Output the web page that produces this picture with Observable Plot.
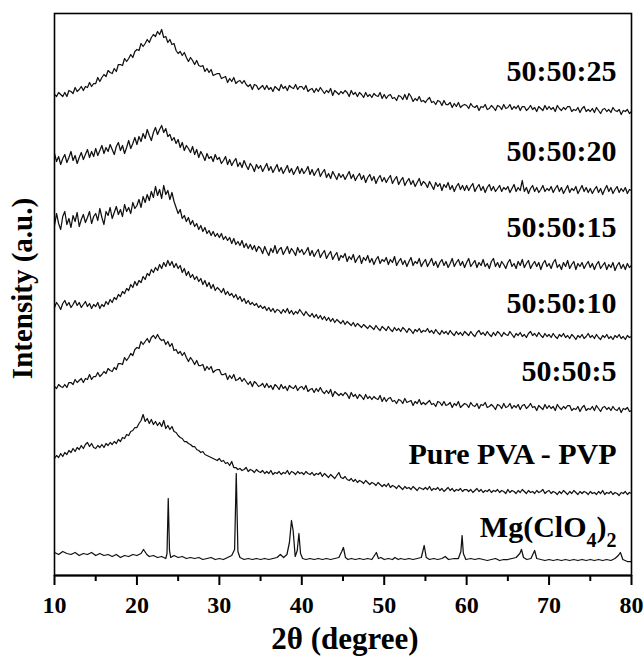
<!DOCTYPE html>
<html><head><meta charset="utf-8">
<script src="https://cdn.jsdelivr.net/npm/d3@7"></script>
<script src="https://cdn.jsdelivr.net/npm/@observablehq/plot@0.6"></script>
<style>
body{margin:0;background:#fff}
svg text{font-family:"Liberation Serif","Times New Roman","DejaVu Serif",serif !important;font-weight:bold}
</style>
</head><body><div id="chart"></div>
<script>
// ---- data ----
const seriesNames = ["50:50:25", "50:50:20", "50:50:15", "50:50:10", "50:50:5", "Pure PVA - PVP", "Mg(ClO4)2"];
const majorTicks = [10, 20, 30, 40, 50, 60, 70, 80];
const minorTicks = [15, 25, 35, 45, 55, 65, 75];
const xTitle = "2θ (degree)";
const yTitle = "Intensity (a.u.)";

// sampling grid of the six polymer patterns (every 0.25°)
const angles = d3.range(10, 80.001, 0.25);

const i25 = [
  481, 479, 483, 481, 479, 483, 479, 485, 484, 482, 488, 484, 486, 489, 485, 489, 488, 493, 489, 492,
  492, 498, 494, 498, 501, 499, 505, 503, 502, 507, 504, 511, 511, 510, 517, 514, 517, 521, 518, 524,
  526, 525, 532, 529, 532, 536, 533, 538, 541, 539, 544, 541, 546, 538, 539, 533, 536, 531, 532, 525,
  522, 524, 520, 523, 518, 514, 518, 515, 511, 515, 510, 509, 510, 504, 507, 503, 506, 500, 501, 502,
  502, 497, 498, 499, 493, 497, 494, 498, 492, 494, 495, 492, 495, 491, 489, 491, 486, 491, 490, 486,
  488, 490, 486, 490, 486, 488, 484, 489, 487, 485, 491, 487, 489, 485, 490, 488, 487, 491, 486, 489,
  489, 486, 490, 484, 486, 487, 483, 487, 484, 488, 485, 482, 485, 483, 487, 480, 485, 483, 481, 484,
  482, 485, 483, 479, 485, 481, 483, 479, 483, 481, 478, 483, 479, 481, 478, 482, 480, 479, 483, 477,
  481, 477, 480, 481, 477, 478, 475, 480, 479, 476, 481, 476, 482, 479, 474, 477, 475, 479, 474, 475,
  473, 476, 478, 473, 474, 471, 475, 474, 470, 475, 471, 471, 473, 468, 472, 469, 473, 468, 470, 471,
  470, 467, 472, 469, 468, 470, 465, 469, 468, 471, 466, 467, 470, 468, 465, 470, 469, 466, 471, 467,
  468, 471, 466, 469, 467, 470, 465, 469, 469, 465, 467, 470, 466, 468, 464, 469, 467, 465, 470, 466,
  469, 466, 468, 464, 470, 467, 465, 468, 466, 469, 469, 464, 466, 465, 468, 463, 467, 469, 464, 466,
  464, 467, 463, 468, 465, 462, 466, 467, 464, 466, 463, 468, 465, 464, 466, 461, 465, 464, 466, 462,
  464];
const i20 = [
  422, 414, 419, 411, 417, 421, 413, 418, 424, 415, 420, 412, 418, 423, 416, 421, 426, 418, 424, 419,
  427, 420, 425, 430, 422, 428, 424, 431, 426, 421, 429, 433, 425, 430, 422, 428, 435, 427, 432, 438,
  431, 439, 434, 442, 437, 446, 440, 435, 443, 448, 441, 446, 450, 443, 447, 439, 441, 435, 438, 432,
  436, 428, 433, 425, 430, 427, 423, 429, 421, 426, 418, 424, 420, 415, 422, 417, 419, 414, 421, 416,
  418, 412, 415, 419, 411, 416, 410, 414, 417, 409, 413, 408, 415, 410, 406, 412, 409, 404, 411, 407,
  410, 404, 408, 412, 405, 409, 403, 407, 411, 404, 408, 402, 406, 410, 403, 407, 401, 405, 409, 402,
  407, 402, 405, 409, 401, 406, 400, 404, 407, 399, 403, 406, 398, 402, 397, 404, 400, 396, 402, 398,
  401, 396, 400, 404, 397, 401, 395, 399, 402, 396, 400, 393, 398, 401, 395, 399, 392, 397, 400, 394,
  398, 393, 397, 400, 392, 396, 399, 391, 395, 398, 390, 394, 397, 391, 395, 389, 393, 397, 390, 394,
  392, 388, 394, 390, 386, 393, 389, 392, 385, 391, 388, 393, 386, 390, 384, 389, 392, 386, 390, 385,
  390, 385, 389, 392, 384, 388, 391, 385, 389, 383, 388, 391, 385, 389, 384, 387, 390, 384, 388, 386,
  389, 383, 387, 391, 384, 388, 385, 395, 384, 388, 382, 387, 390, 384, 388, 383, 386, 390, 384, 387,
  385, 389, 383, 387, 390, 384, 388, 382, 386, 390, 383, 387, 385, 389, 382, 386, 390, 384, 388, 383,
  387, 382, 386, 389, 383, 387, 381, 386, 390, 384, 388, 382, 386, 389, 383, 387, 384, 388, 382, 386,
  385];
const i15 = [
  350, 362, 352, 346, 359, 364, 351, 357, 348, 360, 354, 363, 349, 356, 361, 353, 358, 364, 352, 359,
  362, 355, 367, 358, 351, 364, 360, 368, 357, 363, 369, 361, 366, 359, 371, 364, 368, 362, 373, 367,
  370, 376, 368, 379, 373, 381, 375, 384, 378, 389, 380, 386, 377, 390, 381, 385, 376, 383, 374, 368,
  362, 366, 357, 360, 354, 358, 351, 355, 349, 352, 346, 350, 344, 348, 342, 345, 340, 344, 339, 342,
  338, 342, 336, 339, 335, 338, 332, 337, 331, 334, 330, 335, 328, 332, 327, 331, 326, 330, 324, 329,
  327, 322, 329, 324, 320, 327, 323, 330, 322, 326, 328, 321, 325, 329, 322, 327, 324, 320, 328, 323,
  326, 321, 324, 328, 320, 325, 319, 323, 326, 318, 322, 325, 317, 321, 324, 316, 320, 323, 315, 320,
  318, 322, 314, 319, 316, 321, 313, 317, 320, 312, 318, 315, 320, 313, 317, 311, 316, 319, 312, 316,
  314, 318, 311, 316, 313, 319, 310, 314, 317, 311, 315, 309, 314, 318, 310, 314, 312, 317, 309, 313,
  316, 309, 313, 317, 310, 314, 308, 313, 316, 310, 314, 308, 312, 317, 309, 313, 316, 310, 314, 308,
  313, 317, 309, 312, 315, 308, 313, 310, 316, 309, 312, 307, 314, 317, 309, 313, 308, 314, 311, 307,
  313, 316, 309, 312, 307, 314, 310, 316, 308, 312, 315, 307, 311, 314, 309, 313, 306, 312, 315, 309,
  312, 307, 313, 316, 308, 311, 306, 313, 309, 315, 307, 311, 314, 306, 312, 309, 313, 307, 311, 314,
  308, 312, 306, 311, 314, 307, 310, 313, 306, 311, 308, 313, 305, 310, 313, 307, 311, 306, 312, 308,
  310];
const i10 = [
  268, 273, 270, 266, 272, 275, 270, 273, 268, 271, 275, 270, 273, 268, 271, 274, 269, 272, 267, 271,
  269, 273, 267, 271, 269, 274, 271, 276, 273, 278, 276, 281, 279, 284, 282, 287, 285, 291, 288, 294,
  290, 295, 293, 299, 296, 302, 300, 306, 303, 308, 305, 311, 307, 313, 309, 315, 310, 314, 308, 312,
  307, 310, 303, 307, 300, 304, 298, 301, 296, 299, 294, 297, 291, 295, 289, 293, 287, 291, 285, 288,
  286, 283, 287, 281, 284, 280, 282, 278, 281, 276, 279, 274, 277, 272, 275, 271, 273, 270, 272, 268,
  270, 267, 269, 265, 268, 264, 267, 263, 266, 265, 262, 266, 263, 267, 262, 265, 261, 264, 262, 266,
  263, 260, 264, 261, 259, 262, 258, 261, 257, 260, 256, 259, 255, 258, 254, 257, 253, 256, 254, 252,
  255, 251, 254, 252, 250, 253, 249, 252, 250, 248, 251, 249, 247, 250, 248, 246, 250, 247, 245, 249,
  247, 245, 249, 246, 244, 248, 245, 247, 244, 248, 246, 243, 247, 245, 242, 246, 244, 247, 243, 245,
  244, 247, 243, 245, 242, 246, 243, 241, 245, 242, 244, 241, 245, 242, 240, 244, 241, 243, 240, 244,
  242, 240, 244, 241, 239, 243, 245, 241, 243, 240, 244, 241, 239, 243, 240, 244, 242, 239, 243, 241,
  240, 244, 241, 238, 242, 240, 243, 239, 241, 238, 242, 244, 240, 242, 239, 243, 240, 238, 242, 239,
  241, 238, 242, 239, 237, 241, 239, 242, 238, 240, 237, 241, 239, 236, 240, 238, 241, 237, 239, 242,
  238, 240, 237, 241, 238, 236, 240, 238, 241, 237, 239, 236, 240, 238, 241, 237, 239, 236, 240, 238,
  239];
const i5 = [
  189, 187, 191, 189, 188, 191, 188, 193, 193, 191, 196, 193, 195, 197, 193, 197, 196, 201, 196, 199,
  199, 203, 199, 201, 204, 202, 207, 205, 204, 208, 206, 212, 212, 211, 218, 215, 218, 222, 220, 226,
  228, 227, 234, 231, 234, 237, 233, 238, 240, 237, 241, 237, 235, 236, 231, 234, 229, 232, 225, 226,
  222, 224, 220, 223, 218, 214, 218, 215, 211, 215, 210, 210, 211, 205, 209, 206, 209, 203, 205, 206,
  206, 201, 201, 202, 196, 200, 197, 201, 195, 196, 198, 194, 197, 194, 191, 194, 189, 194, 192, 189,
  190, 192, 188, 192, 188, 190, 186, 191, 189, 186, 191, 187, 189, 185, 190, 188, 187, 190, 185, 188,
  189, 186, 190, 184, 186, 187, 183, 187, 184, 188, 184, 182, 185, 182, 186, 179, 184, 182, 180, 182,
  180, 183, 181, 177, 183, 179, 181, 177, 181, 179, 176, 181, 177, 179, 176, 179, 177, 176, 180, 174,
  178, 174, 177, 178, 174, 175, 172, 176, 175, 172, 177, 173, 174, 175, 170, 174, 172, 176, 171, 173,
  171, 173, 175, 171, 172, 169, 174, 173, 170, 174, 170, 171, 173, 168, 172, 170, 174, 168, 170, 172,
  171, 168, 173, 170, 169, 172, 167, 171, 170, 173, 168, 169, 171, 169, 166, 171, 170, 167, 172, 168,
  169, 172, 167, 170, 168, 171, 166, 170, 171, 167, 169, 172, 168, 169, 165, 170, 168, 166, 171, 167,
  170, 167, 169, 165, 171, 168, 166, 169, 167, 170, 170, 165, 167, 166, 169, 164, 168, 170, 165, 167,
  166, 169, 165, 170, 167, 164, 168, 169, 166, 168, 165, 169, 166, 165, 168, 163, 167, 166, 168, 164,
  165];
const iPure = [
  117, 120, 118, 122, 119, 123, 121, 125, 123, 127, 124, 128, 126, 130, 127, 131, 133, 129, 132, 128,
  127, 130, 128, 131, 128, 132, 130, 133, 131, 134, 132, 136, 134, 138, 137, 141, 140, 144, 145, 148,
  148, 152, 155, 161, 154, 157, 152, 156, 151, 154, 150, 153, 149, 155, 147, 150, 146, 149, 144, 143,
  140, 138, 137, 134, 134, 132, 131, 129, 129, 126, 125, 123, 124, 121, 120, 119, 118, 117, 116, 115,
  117, 114, 115, 112, 113, 110, 114, 108, 108, 106, 107, 105, 106, 108, 104, 106, 105, 103, 106, 104,
  103, 105, 102, 104, 102, 105, 101, 103, 102, 104, 101, 103, 102, 105, 101, 104, 103, 101, 104, 102,
  103, 101, 104, 102, 101, 103, 100, 102, 101, 103, 99, 102, 100, 98, 101, 99, 97, 100, 103, 98,
  97, 99, 96, 95, 97, 94, 96, 93, 95, 94, 92, 95, 93, 91, 93, 92, 90, 93, 91, 89,
  91, 89, 92, 88, 90, 89, 87, 90, 88, 86, 89, 87, 88, 86, 89, 87, 85, 88, 87, 86,
  88, 86, 89, 85, 87, 86, 88, 85, 87, 84, 86, 88, 85, 87, 84, 86, 85, 87, 84, 86,
  86, 84, 86, 83, 85, 87, 84, 86, 83, 85, 84, 86, 83, 85, 84, 86, 83, 85, 84, 82,
  86, 83, 85, 84, 82, 85, 83, 86, 84, 82, 85, 83, 84, 82, 85, 83, 84, 86, 82, 84,
  85, 82, 84, 83, 81, 84, 82, 85, 83, 81, 84, 82, 85, 83, 81, 84, 82, 84, 83, 81,
  84, 82, 83, 81, 84, 82, 85, 81, 83, 82, 84, 81, 83, 82, 80, 83, 82, 84, 81, 83,
  82];

// Mg(ClO4)2 powder pattern (denser around its sharp reflections)
const mgAngles = [
  10, 10.5, 11, 11.5, 12, 12.5, 13, 13.5, 14, 14.5, 15, 15.5, 16, 16.5, 17, 17.5, 18, 18.5, 19, 19.5, 20,
  20.5, 20.8, 21.2, 21.5, 22, 22.5, 23, 23.5,
  23.65, 23.8, 23.95, 24.1,
  24.5, 25, 25.5, 26, 26.5, 27, 27.5, 28, 28.5, 29, 29.5, 30, 30.5, 31, 31.5,
  31.85, 32.05, 32.25,
  32.5, 33, 33.5, 34, 34.5, 35, 35.5, 36, 36.5, 37,
  37.4, 37.8, 38.2, 38.5, 38.75, 38.95, 39.2, 39.45, 39.65, 39.85, 40.1,
  40.5, 41, 41.5, 42, 42.5, 43, 43.5, 44, 44.5,
  44.85, 45.05, 45.3, 45.6,
  46, 46.5, 47, 47.5, 48, 48.5,
  49.05, 49.3, 49.6,
  50, 50.5, 51,
  51.3, 51.7,
  52, 52.5, 53, 53.5, 54, 54.5,
  54.85, 55.1,
  55.5, 56, 56.5, 57,
  57.4, 57.8,
  58.5, 59,
  59.3, 59.45, 59.6, 59.9,
  60.5, 61, 61.5, 62, 62.5, 63, 63.5, 64, 64.5, 65, 65.5, 66,
  66.45, 66.65, 66.9, 67.3, 67.8, 68.25, 68.5,
  69, 69.5, 70, 70.5, 71, 71.5, 72, 72.5, 73, 73.5, 74, 74.5, 75, 75.5, 76, 76.5, 77, 77.5, 78,
  78.4, 78.65, 78.95, 79.5, 80];
const mgCounts = [
  23, 21, 24, 22, 21, 23, 20, 22, 21, 23, 20, 22, 20, 21, 19, 21, 18, 20, 19, 21, 20,
  22, 26, 21, 19, 20, 18, 19, 17,
  22, 77, 25, 18,
  20, 18, 19, 17, 18, 17, 18, 16, 17, 18, 16, 17, 16, 18, 20,
  26, 102, 24,
  18, 16, 17, 16, 17, 16, 17, 16, 17, 18,
  21, 18, 21, 33, 55, 45, 19, 25, 42, 22, 17,
  16, 17, 16, 17, 16, 17, 16, 17, 18,
  24, 28, 18, 16,
  17, 16, 17, 16, 17, 16,
  23, 17, 18,
  16, 17, 16,
  18, 16,
  17, 16, 17, 16, 17, 18,
  30, 18,
  16, 17, 16, 17,
  19, 16,
  17, 17,
  24, 40, 22, 16,
  17, 16, 17, 16, 15, 16, 17, 15, 16, 16, 17, 18,
  22, 26, 18, 16, 17, 25, 17,
  16, 15, 16, 15, 16, 15, 16, 15, 16, 15, 16, 15, 16, 15, 16, 15, 16, 15, 17,
  20, 23, 16, 14, 14];

// ---- table for the library ----
const curves = [i25, i20, i15, i10, i5, iPure];
const rows = [];
curves.forEach((vals, s) => vals.forEach((v, j) => rows.push({series: seriesNames[s], angle: angles[j], value: v})));
mgAngles.forEach((a, j) => rows.push({series: seriesNames[6], angle: a, value: mgCounts[j]}));

// labels sit a little above the right end of their pattern
const labelLift = [31, 30, 29, 24, 30, 30, 25];
const labels = seriesNames.map((name, s) => {
  const r = rows.filter(d => d.series === name);
  return {name, y: r[r.length - 1].value + labelLift[s]};
});

const font = "'Liberation Serif','Times New Roman',Times,serif";
const chart = Plot.plot({
  width: 644,
  height: 656,
  marginLeft: 54,
  marginRight: 13,
  marginTop: 13,
  marginBottom: 81,
  style: {"font-family": font, "font-weight": "bold", background: "#fff", color: "#000", overflow: "visible"},
  x: {domain: [10, 80]},
  y: {domain: [0, 562], axis: null},
  marks: [
    Plot.line(rows, {x: "angle", y: "value", z: "series", stroke: "#111", strokeWidth: 1.25}),
    Plot.frame({stroke: "#000", strokeWidth: 1.6}),
    Plot.ruleY([0], {stroke: "#000", strokeWidth: 2.2}),
    Plot.axisX({ticks: majorTicks, tickSize: 10, tickPadding: 10, fontSize: 24, fontFamily: font, fontWeight: "bold", strokeWidth: 2, label: null, fill: "#000", tickFormat: d => String(d)}),
    Plot.axisX({ticks: minorTicks, tickSize: 6, strokeWidth: 2, label: null, fill: "none"}),
    Plot.text(labels, {y: "y", text: "name", frameAnchor: "right", textAnchor: "end", lineAnchor: "bottom", dx: -15, fontSize: 30, fontFamily: font, fontWeight: "bold", fill: "#000"}),
    Plot.text([xTitle], {frameAnchor: "bottom", lineAnchor: "bottom", dy: 73, dx: 2, fontSize: 31, fontFamily: font, fontWeight: "bold", fill: "#000"}),
    Plot.text([yTitle], {frameAnchor: "left", textAnchor: "middle", rotate: -90, dx: -32, dy: -6, fontSize: 29, fontFamily: font, fontWeight: "bold", fill: "#000"})
  ]
});

// chemical formula: digits become subscripts
d3.select(chart).selectAll("text").filter(function () { return this.textContent === seriesNames[6]; }).each(function () {
  const t = d3.select(this);
  t.text(null);
  const parts = seriesNames[6].match(/\D+|\d+/g);
  let sub = false;
  parts.forEach(p => {
    const isSub = /^\d+$/.test(p);
    const ts = t.append("tspan").text(p);
    if (isSub && !sub) ts.attr("dy", 10);
    if (!isSub && sub) ts.attr("dy", -10);
    if (isSub) ts.attr("font-size", 20);
    sub = isSub;
  });
});

document.getElementById("chart").appendChild(chart);
</script>
</body></html>
